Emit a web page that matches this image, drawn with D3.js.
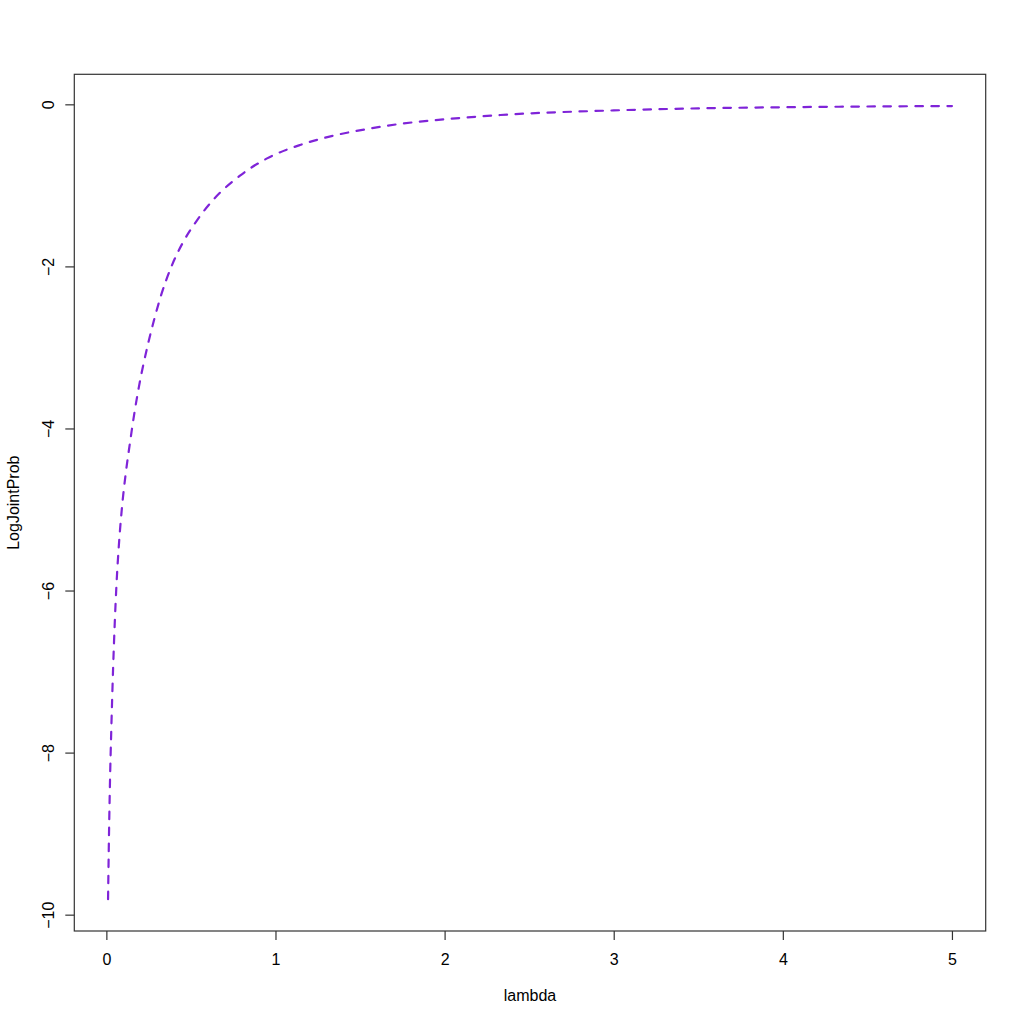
<!DOCTYPE html>
<html>
<head>
<meta charset="utf-8">
<script src="https://cdn.jsdelivr.net/npm/d3@7"></script>
<style>
  html, body { margin: 0; padding: 0; background: #fff; }
  svg { display: block; }
  text { font-family: "Liberation Sans", Arial, Helvetica, sans-serif; fill: #000; }
</style>
</head>
<body>
<svg id="chart" width="1024" height="1024"></svg>
<script>
// ---- data ----
const lambda = [0.01, 0.014, 0.02, 0.03, 0.04, 0.05, 0.06, 0.073, 0.092, 0.113, 0.138, 0.168, 0.193,
                0.246, 0.286, 0.326, 0.385, 0.454, 0.533, 0.64, 0.79, 0.95, 1.145, 1.34, 1.54, 1.73,
                2.0, 2.33, 3.0, 3.5, 4.0, 4.5, 5.0];
const logJointProb = [-9.81, -9.22, -8.5, -7.65, -6.95, -6.38, -5.92, -5.47, -4.98, -4.58, -4.2, -3.78, -3.48,
                      -2.96, -2.63, -2.34, -2.00, -1.70, -1.44, -1.16, -0.88, -0.667, -0.502, -0.388, -0.305, -0.243,
                      -0.185, -0.132, -0.075, -0.05, -0.036, -0.027, -0.021];
const xTicks = [0, 1, 2, 3, 4, 5];
const yTicks = [0, -2, -4, -6, -8, -10];
const xLabel = "lambda";
const yLabel = "LogJointProb";

// ---- layout ----
const svg = d3.select("#chart");
const plot = { left: 74.3, right: 985.7, top: 74.3, bottom: 931 };

function rRange(ext) { const d = (ext[1] - ext[0]) * 0.04; return [ext[0] - d, ext[1] + d]; }
const x = d3.scaleLinear().domain(rRange(d3.extent(lambda))).range([plot.left, plot.right]);
const y = d3.scaleLinear().domain(rRange(d3.extent(logJointProb))).range([plot.bottom, plot.top]);

const pts = lambda.map((l, i) => [l, logJointProb[i]]);

// curve
const line = d3.line().x(d => x(d[0])).y(d => y(d[1])).curve(d3.curveMonotoneX);
svg.append("path")
  .attr("d", line(pts))
  .attr("fill", "none")
  .attr("stroke", "#7f24d8")
  .attr("stroke-width", 2.2)
  .attr("stroke-linecap", "round")
  .attr("stroke-dasharray", "7.5,8.5");

// box
svg.append("rect")
  .attr("x", plot.left).attr("y", plot.top)
  .attr("width", plot.right - plot.left).attr("height", plot.bottom - plot.top)
  .attr("fill", "none").attr("stroke", "#333").attr("stroke-width", 1.2);

// x axis
const xAxis = d3.axisBottom(x).tickValues(xTicks).tickSize(9).tickPadding(14).tickFormat(d3.format("d"));
const gx = svg.append("g").attr("transform", `translate(0,${plot.bottom})`).call(xAxis);
gx.select(".domain").remove();
gx.selectAll("line").attr("stroke", "#333").attr("stroke-width", 1.2);
gx.selectAll("text").attr("font-size", 16).style("font-family", '"Liberation Sans", Arial, sans-serif').attr("fill", "#000");

// y axis
const yAxis = d3.axisLeft(y).tickValues(yTicks).tickSize(9).tickFormat(d3.format("d"));
const gy = svg.append("g").attr("transform", `translate(${plot.left},0)`).call(yAxis);
gy.select(".domain").remove();
gy.selectAll("line").attr("stroke", "#333").attr("stroke-width", 1.2);
gy.selectAll("text")
  .attr("font-size", 16)
  .style("font-family", '"Liberation Sans", Arial, sans-serif')
  .attr("fill", "#000")
  .attr("x", null).attr("dy", null)
  .attr("text-anchor", "middle")
  .attr("transform", "translate(-20,0) rotate(-90)")
  .attr("y", 0);

// axis titles
svg.append("text")
  .attr("x", (plot.left + plot.right) / 2).attr("y", 1001)
  .attr("text-anchor", "middle").attr("font-size", 16).text(xLabel);
svg.append("text")
  .attr("transform", `translate(19,${(plot.top + plot.bottom) / 2}) rotate(-90)`)
  .attr("text-anchor", "middle").attr("font-size", 16).text(yLabel);
</script>
</body>
</html>
